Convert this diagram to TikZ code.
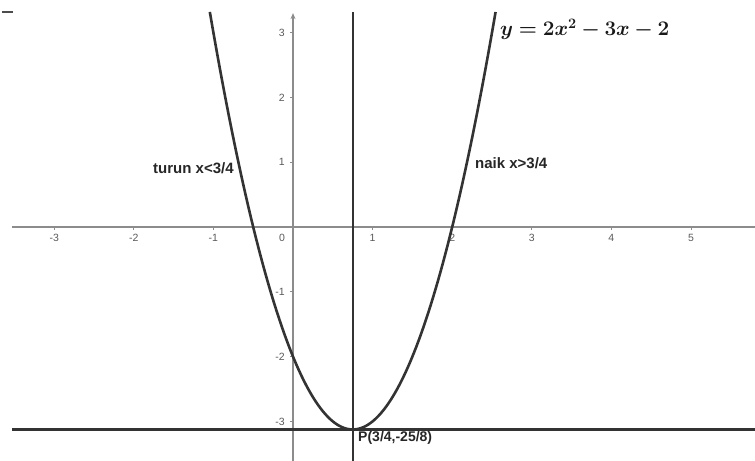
\documentclass[tikz,border=0pt]{standalone}
\usepackage{amsmath}
\usepackage{bm}
\usepackage{fontspec}
\setsansfont{Liberation Sans}
\usepackage{tikz}
\usetikzlibrary{arrows.meta,positioning}

\begin{document}
\begin{tikzpicture}[
    x=79.6pt, y=64.8pt,
    axis/.style={black!45, line width=1.1pt},
    guide/.style={black!80, line width=2.2pt},
    curve/.style={black!80, line width=2.6pt},
    ticklab/.style={inner sep=0pt, font=\sffamily\fontsize{10.5}{12}\selectfont, text=black!65},
    note/.style={inner sep=0pt, anchor=west, font=\sffamily\bfseries\fontsize{15}{18}\selectfont, text=black!85}
  ]
    \useasboundingbox (-3.681,-3.611) rectangle (5.804,3.503);
    \draw[black!70, line width=1.6pt] (-3.656,3.318) -- (-3.518,3.318);

    \draw[axis] (-3.53,0) -- (5.804,0);
    \draw[axis, -{Stealth[length=6pt, width=5pt]}] (0,-3.611) -- (0,3.30);
    \foreach \i in {-3,-2,-1,1,2,3,4,5} {
      \draw[axis, line width=0.8pt] (\i,0) -- ++(0,-3pt);
      \node[ticklab] (xt\i) at ([yshift=-11pt]\i,0) {\i};
    }
    \foreach \j in {-3,-2,-1,1,2,3} {
      \draw[axis, line width=0.8pt] (0,\j) -- ++(-3pt,0);
      \node[ticklab, anchor=east] (yt\j) at ([xshift=-8pt]0,\j) {\j};
    }
    \node[ticklab] (orig) at (-11pt,-11pt) {0};

    \draw[guide] (0.75,3.318) -- (0.75,-3.611);
    \draw[guide] (-3.53,-3.125) -- (5.804,-3.125);
    \draw[curve, domain=-1.045:2.545, samples=120] plot (\x, {2*\x*\x-3*\x-2});

    \node[inner sep=0pt, anchor=west, text=black!90, font=\fontsize{21}{24}\selectfont] (eq) at (2.60,3.05) {$\bm{y=2x^2-3x-2}$};
    \node[note] (dec) at (-1.759,0.91) {turun x<3/4};
    \node[note] (inc) at (2.286,0.988) {naik x>3/4};
    \node[note, font=\sffamily\bfseries\fontsize{14}{17}\selectfont] (vtx) at (0.817,-3.256) {P(3/4,-25/8)};
  \end{tikzpicture}
\end{document}
